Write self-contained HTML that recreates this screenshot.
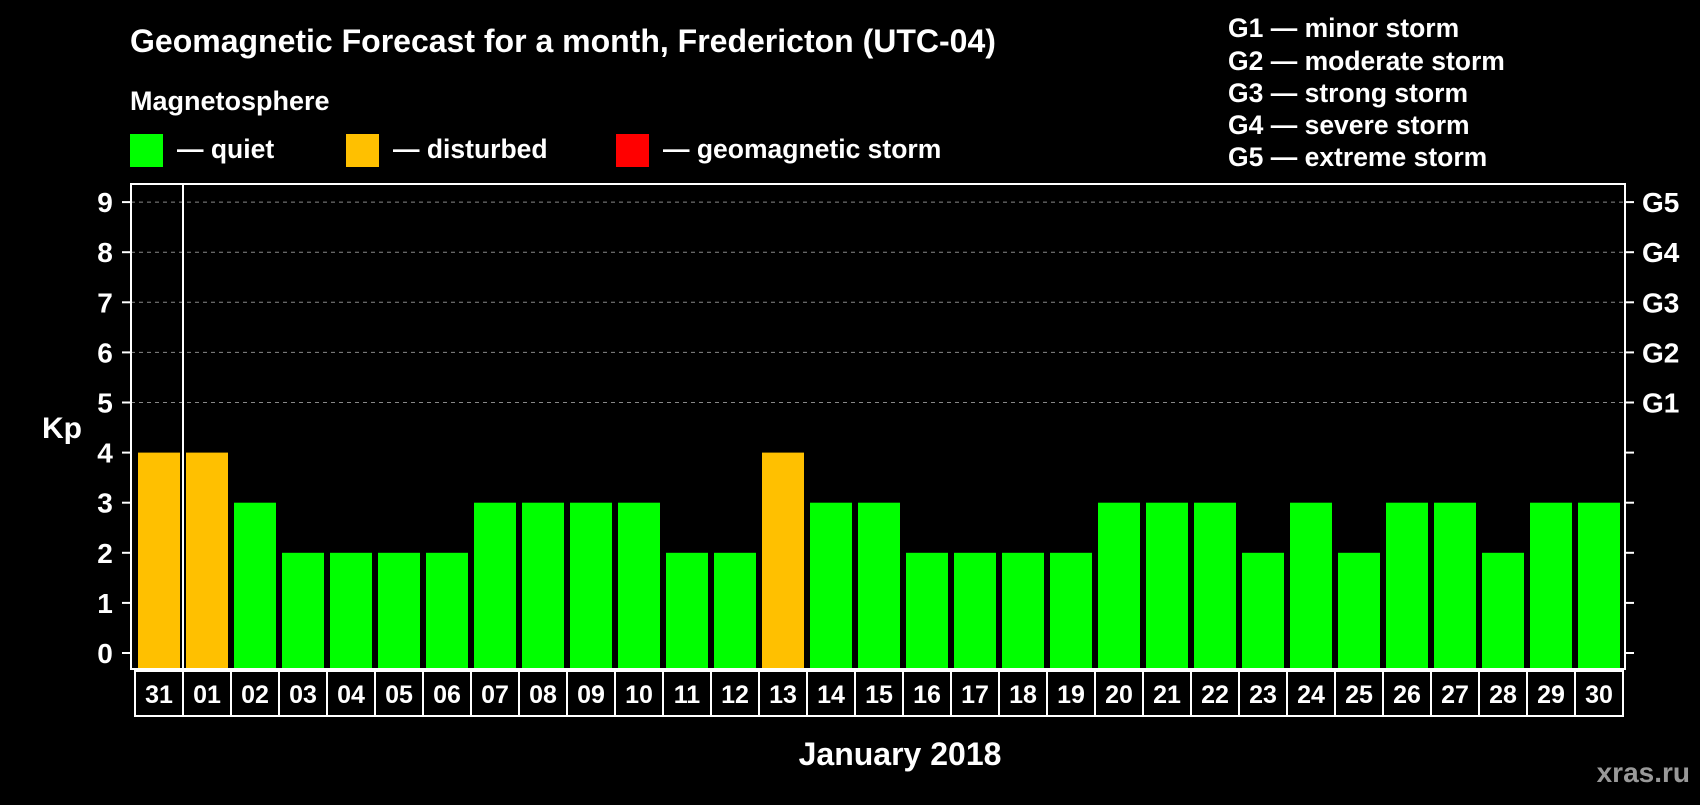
<!DOCTYPE html>
<html><head><meta charset="utf-8"><style>
body{margin:0;background:#000;}
svg text{font-family:"Liberation Sans",sans-serif;font-weight:bold;fill:#fff;}
</style></head><body>
<svg width="1700" height="800" xmlns="http://www.w3.org/2000/svg">
<rect width="1700" height="800" fill="#000"/>
<text x="130" y="52" font-size="32">Geomagnetic Forecast for a month, Fredericton (UTC-04)</text>
<text x="130" y="110" font-size="27">Magnetosphere</text>
<g><rect x="130" y="134" width="33" height="33" fill="#00ff00"/><text x="177" y="158" font-size="26.5">— quiet</text></g>
<g><rect x="346" y="134" width="33" height="33" fill="#ffc000"/><text x="393" y="158" font-size="26.5">— disturbed</text></g>
<g><rect x="616" y="134" width="33" height="33" fill="#ff0000"/><text x="663" y="158" font-size="26.5">— geomagnetic storm</text></g>
<g font-size="26.5">
<text x="1228" y="37">G1 — minor storm</text>
<text x="1228" y="70">G2 — moderate storm</text>
<text x="1228" y="102">G3 — strong storm</text>
<text x="1228" y="134">G4 — severe storm</text>
<text x="1228" y="166">G5 — extreme storm</text>
</g>
<text x="42" y="438" font-size="30">Kp</text>
<text x="900" y="765" font-size="32" text-anchor="middle">January 2018</text>
<text x="1690" y="782" font-size="28" text-anchor="end" style="fill:#999">xras.ru</text>
<g id="grid"></g><g id="bars"></g><g id="ticks"></g><g id="labels"></g>
<rect x="131" y="184" width="1494" height="485" fill="none" stroke="#fff" stroke-width="2"/>
<line x1="183" y1="184" x2="183" y2="669" stroke="#fff" stroke-width="2"/>
</svg>
<script>
const days=["31","01","02","03","04","05","06","07","08","09","10","11","12","13","14","15","16","17","18","19","20","21","22","23","24","25","26","27","28","29","30"];
const kp=[4,4,3,2,2,2,2,3,3,3,3,2,2,4,3,3,2,2,2,2,3,3,3,2,3,2,3,3,2,3,3];
const yTicks=[0,1,2,3,4,5,6,7,8,9];
const gLabels=["","","","","","G1","G2","G3","G4","G5"];
const NS="http://www.w3.org/2000/svg";
const y0=653,unit=50.1,x0=138,pitch=48,bw=42;
const yS=v=>y0-v*unit, xS=i=>x0+i*pitch;
function mk(t,a,p){const e=document.createElementNS(NS,t);for(const k in a)e.setAttribute(k,a[k]);document.getElementById(p).appendChild(e);return e;}
yTicks.forEach((v,i)=>{
 const y=yS(v);
 if(v>=5){const g=mk('line',{x1:131,y1:y,x2:1625,y2:y,stroke:'#888','stroke-dasharray':'4,4'},'grid');
 }
 const t1=mk('line',{x1:122,y1:y,x2:131,y2:y,stroke:'#fff','stroke-width':2},'ticks');
 
 const t2=mk('line',{x1:1625,y1:y,x2:1634,y2:y,stroke:'#fff','stroke-width':2},'ticks');
 
 const l=mk('text',{x:105,y:y+10,'font-size':28,'text-anchor':'middle'},'ticks');l.textContent=v;
 
 if(gLabels[i]){const g=mk('text',{x:1642,y:y+10,'font-size':28},'ticks');g.textContent=gLabels[i];
 }
});
kp.forEach((v,i)=>{
 const c=v>=5?'#ff0000':(v>=4?'#ffc000':'#00ff00');
 const r=mk('rect',{x:xS(i),y:yS(v),width:bw,height:v*unit+15,fill:c},'bars');
 
 const b=mk('rect',{x:xS(i)-3,y:671,width:pitch,height:45,fill:'none',stroke:'#fff','stroke-width':2},'labels');
 
 const t=mk('text',{x:xS(i)+bw/2,y:703,'font-size':25,'text-anchor':'middle'},'labels');t.textContent=days[i];
 
});
</script>
</body></html>
